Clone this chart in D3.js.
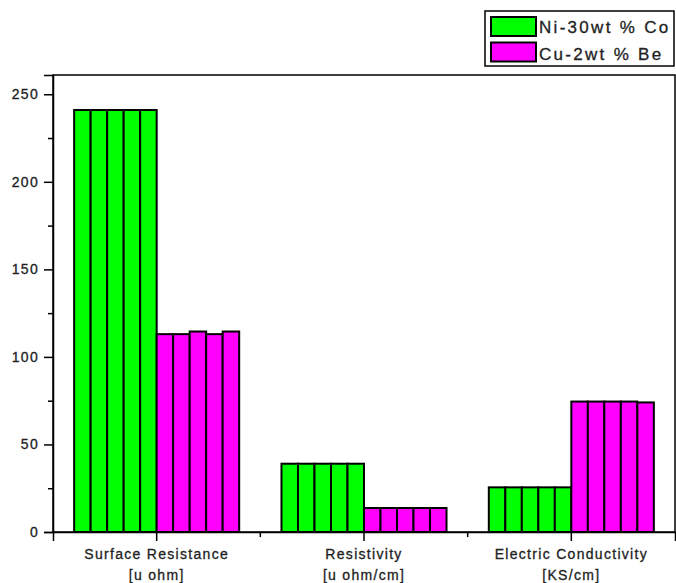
<!DOCTYPE html>
<html>
<head>
<meta charset="utf-8">
<script src="https://cdn.jsdelivr.net/npm/d3@7"></script>
<style>
  body { margin: 0; background: #fff; }
  svg text { font-family: "Liberation Sans", Arial, sans-serif; fill: #222; stroke: #222; stroke-width: 0.3px; }
</style>
</head>
<body>
<div id="chart"></div>
<script>
// chart data
const categories = ["Surface Resistance", "Resistivity", "Electric Conductivity"];
const units = ["[u ohm]", "[u ohm/cm]", "[KS/cm]"];
const seriesNames = ["Ni-30wt % Co", "Cu-2wt % Be"];
const niCo = [
    [241, 241, 241, 241, 241],
    [39, 39, 39, 39, 39],
    [25.5, 25.5, 25.5, 25.5, 25.5]
];
const cuBe = [
    [113, 113, 114.5, 113, 114.5],
    [13.7, 13.7, 13.7, 13.7, 13.7],
    [74.5, 74.5, 74.5, 74.5, 74]
];
const yTicks = [0, 50, 100, 150, 200, 250];
const yMinorTicks = [25, 75, 125, 175, 225];

function drawChart(selector) {
    const W = 676, H = 583;
    const left = 53, right = 675, top = 75, bottom = 532;
    const colors = ["#00ff00", "#ff00ff"];

    const svg = d3.select(selector)
        .append("svg")
        .attr("width", W)
        .attr("height", H);

    // scales
    const x0 = d3.scaleBand()
        .domain(categories)
        .range([left, right])
        .paddingInner(0.204)
        .paddingOuter(0.102);
    const x1 = d3.scaleBand()
        .domain(seriesNames)
        .range([0, x0.bandwidth()]);
    const x2 = d3.scaleBand()
        .domain(d3.range(5))
        .range([0, x1.bandwidth()]);
    const y = d3.scaleLinear()
        .domain([0, 261])
        .range([bottom, top]);

    // bars
    const rows = [];
    categories.forEach((c, i) => {
        [niCo[i], cuBe[i]].forEach((vals, s) => {
            vals.forEach((v, k) => rows.push({cat: c, series: seriesNames[s], s: s, k: k, value: v}));
        });
    });
    svg.append("g")
        .selectAll("rect")
        .data(rows)
        .enter()
        .append("rect")
        .attr("x", d => x0(d.cat) + x1(d.series) + x2(d.k))
        .attr("y", d => y(d.value))
        .attr("width", x2.bandwidth())
        .attr("height", d => y(0) - y(d.value))
        .attr("fill", d => colors[d.s])
        .attr("stroke", "#000")
        .attr("stroke-width", 2);

    // frame (top / right)
    svg.append("rect")
        .attr("x", left)
        .attr("y", top)
        .attr("width", right - left)
        .attr("height", bottom - top)
        .attr("fill", "none")
        .attr("stroke", "#000")
        .attr("stroke-width", 1.5);

    // Y axis
    const yAxis = svg.append("g")
        .attr("transform", "translate(" + left + ",0)")
        .call(d3.axisLeft(y).tickValues(yTicks).tickSize(9).tickPadding(5))
        .call(g => g.select(".domain").attr("stroke-width", 1.5));
    yAxis.selectAll("text")
        .style("font-size", "14px")
        .style("letter-spacing", "1.3px")
        .attr("fill", "#222");
    yAxis.selectAll(".tick line").attr("stroke-width", 1.5);
    svg.append("g")
        .attr("transform", "translate(" + left + ",0)")
        .call(d3.axisLeft(y).tickValues(yMinorTicks).tickSize(5).tickFormat(""))
        .call(g => g.select(".domain").remove())
        .selectAll(".tick line").attr("stroke-width", 1.5);

    // X axis
    const xAxis = svg.append("g")
        .attr("transform", "translate(0," + bottom + ")")
        .call(d3.axisBottom(x0).tickSize(9).tickFormat(""))
        .call(g => g.select(".domain").attr("stroke-width", 1.5));
    xAxis.selectAll(".tick line").attr("stroke-width", 1.5);
    xAxis.selectAll(".tick")
        .append("text")
        .attr("y", 27)
        .attr("text-anchor", "middle")
        .style("font-size", "14px")
        .style("letter-spacing", "1.3px")
        .text(d => d);
    xAxis.selectAll(".tick")
        .append("text")
        .attr("y", 48)
        .attr("text-anchor", "middle")
        .style("font-size", "14px")
        .style("letter-spacing", "1.3px")
        .text((d, i) => units[i]);

    // minor x ticks between groups
    const step = x0.step();
    const minorX = categories.slice(1).map(c => x0(c) + x0.bandwidth() / 2 - step / 2);
    svg.append("g")
        .selectAll("line")
        .data(minorX)
        .enter()
        .append("line")
        .attr("x1", d => d).attr("x2", d => d)
        .attr("y1", bottom).attr("y2", bottom + 5)
        .attr("stroke", "#000")
        .attr("stroke-width", 1.5);

    // legend
    const legend = svg.append("g");
    legend.append("rect")
        .attr("x", 485).attr("y", 11)
        .attr("width", 189).attr("height", 55)
        .attr("fill", "#fff")
        .attr("stroke", "#000")
        .attr("stroke-width", 1.5);
    seriesNames.forEach((name, i) => {
        legend.append("rect")
            .attr("x", 491).attr("y", 17 + i * 25.5)
            .attr("width", 45).attr("height", 19)
            .attr("fill", colors[i])
            .attr("stroke", "#000")
            .attr("stroke-width", 2);
        legend.append("text")
            .attr("x", 539).attr("y", 33 + i * 26.5)
            .style("font-size", "17px")
            .style("letter-spacing", "2.3px")
            .text(name);
    });
}

drawChart("#chart");
</script>
</body>
</html>
